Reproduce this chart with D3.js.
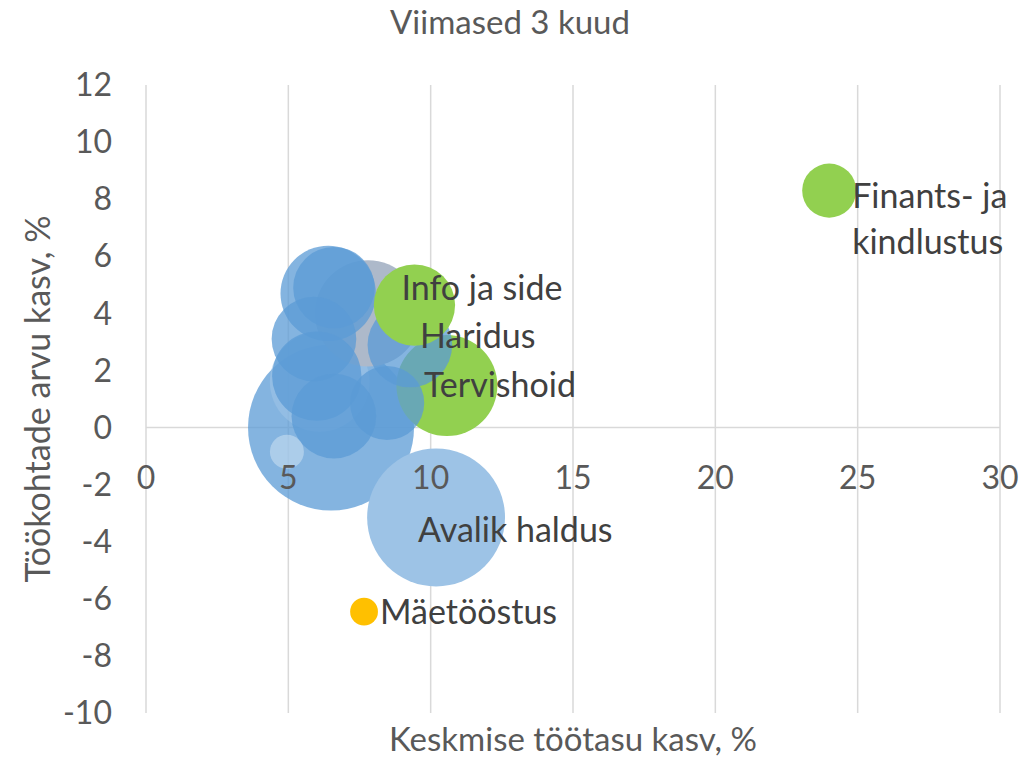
<!DOCTYPE html>
<html>
<head>
<meta charset="utf-8">
<script src="https://cdn.jsdelivr.net/npm/d3@7"></script>
<style>
  body { margin: 0; background: #fff; }
  svg text { font-family: Lato, 'Open Sans', sans-serif; fill: #595959; }
</style>
</head>
<body>
<main></main>
<script>
'use strict'

// sector data: salary growth (x), job value growth (y), bubble size
var names  = ['', '', '', '', '', '', '', '', '', 'Haridus', 'Tervishoid', 'Info ja side', 'Avalik haldus', 'Finants- ja kindlustus', 'Mäetööstus', '']
var xVals  = [6.5, 6.1, 7.8, 6.4, 6.6, 8.47, 5.9, 6.0, 6.6, 9.27, 10.57, 9.43, 10.19, 24.0, 7.66, 4.95]
var yVals  = [0.0, 1.6, 4.0, 4.7, 4.9, 0.86, 3.1, 1.8, 0.4, 2.89, 1.47, 4.29, -3.15, 8.3, -6.45, -0.85]
var sizes  = [100, 36, 41, 33, 24, 20, 26, 29, 26, 26, 37, 24, 69, 10.6, 2.8, 4.2]
var groups = ['blue', 'light', 'gray', 'blue', 'blue', 'blue', 'blue', 'blue', 'blue', 'blue', 'green', 'green', 'pale', 'green', 'orange', 'white']
var drawOrder = [0, 1, 2, 10, 3, 4, 5, 6, 7, 8, 9, 11, 12, 13, 14, 15]

var xTicks = [0, 5, 10, 15, 20, 25, 30]
var yTicks = [12, 10, 8, 6, 4, 2, 0, -2, -4, -6, -8, -10]

var fills = {
  blue:   ['#5B9BD5', 0.75],
  light:  ['#9DC3E6', 0.6],
  gray:   ['#ADB9CA', 1],
  green:  ['#92D050', 1],
  pale:   ['#9DC3E6', 1],
  orange: ['#FFC000', 1],
  white:  ['#DEEBF7', 0.45]
}

// label start relative to the bubble centre (px)
var labelPos = {
  'Haridus':      [10, -9],
  'Tervishoid':   [-23, 0],
  'Info ja side': [-13, -17],
  'Avalik haldus': [-18, 13],
  'Finants- ja kindlustus': [23, 28],
  'Mäetööstus':   [16, 0]
}

var width = 1021, height = 759
var svg = d3.select('main').append('svg')
  .attr('width', width)
  .attr('height', height)

var x = d3.scaleLinear().domain([0, 30]).range([146, 1000])
var y = d3.scaleLinear().domain([-10, 12]).range([713, 85])
var r = d3.scaleSqrt().domain([0, 100]).range([0, 83])

// vertical grid lines
svg.append('g').selectAll('line')
  .data(xTicks)
  .enter().append('line')
  .attr('x1', function (d) { return x(d) })
  .attr('x2', function (d) { return x(d) })
  .attr('y1', y(12))
  .attr('y2', y(-10))
  .attr('stroke', '#D9D9D9')
  .attr('stroke-width', 1.5)

// horizontal axis at y = 0
svg.append('line')
  .attr('x1', x(0)).attr('x2', x(30))
  .attr('y1', y(0)).attr('y2', y(0))
  .attr('stroke', '#D9D9D9')
  .attr('stroke-width', 1.5)

var idx = drawOrder
svg.append('g').selectAll('circle')
  .data(idx)
  .enter().append('circle')
  .attr('cx', function (i) { return x(xVals[i]) })
  .attr('cy', function (i) { return y(yVals[i]) })
  .attr('r', function (i) { return r(sizes[i]) })
  .attr('fill', function (i) { return fills[groups[i]][0] })
  .attr('fill-opacity', function (i) { return fills[groups[i]][1] })

// tick labels
svg.append('g').selectAll('text')
  .data(yTicks)
  .enter().append('text')
  .attr('x', 112)
  .attr('y', function (d) { return y(d) })
  .attr('dy', '0.35em')
  .attr('text-anchor', 'end')
  .attr('font-size', 32)
  .text(function (d) { return d })

svg.append('g').selectAll('text')
  .data(xTicks)
  .enter().append('text')
  .attr('x', function (d) { return x(d) })
  .attr('y', y(0) + 50)
  .attr('dy', '0.35em')
  .attr('text-anchor', 'middle')
  .attr('font-size', 32)
  .text(function (d) { return d })

// data labels
var labelled = idx.filter(function (i) { return names[i] })
svg.append('g').selectAll('text')
  .data(labelled)
  .enter().append('text')
  .attr('font-size', 34)
  .style('fill', '#404040')
  .each(function (i) {
    var off = labelPos[names[i]]
    var cx = x(xVals[i]) + off[0]
    var cy = y(yVals[i]) + off[1]
    var t = d3.select(this)
    var parts = names[i] === 'Finants- ja kindlustus' ? ['Finants- ja', 'kindlustus'] : [names[i]]
    parts.forEach(function (p, k) {
      t.append('tspan')
        .attr('x', cx)
        .attr('y', cy + (k - (parts.length - 1) / 2) * 46)
        .attr('dy', '0.35em')
        .text(p)
    })
  })

// titles
svg.append('text')
  .attr('x', 510).attr('y', 22)
  .attr('dy', '0.35em')
  .attr('text-anchor', 'middle')
  .attr('font-size', 33)
  .text('Viimased 3 kuud')

svg.append('text')
  .attr('x', 573).attr('y', 739)
  .attr('dy', '0.35em')
  .attr('text-anchor', 'middle')
  .attr('font-size', 33)
  .text('Keskmise töötasu kasv, %')

svg.append('text')
  .attr('transform', 'translate(38,399) rotate(-90)')
  .attr('dy', '0.35em')
  .attr('text-anchor', 'middle')
  .attr('font-size', 34)
  .text('Töökohtade arvu kasv, %')
</script>
</body>
</html>
